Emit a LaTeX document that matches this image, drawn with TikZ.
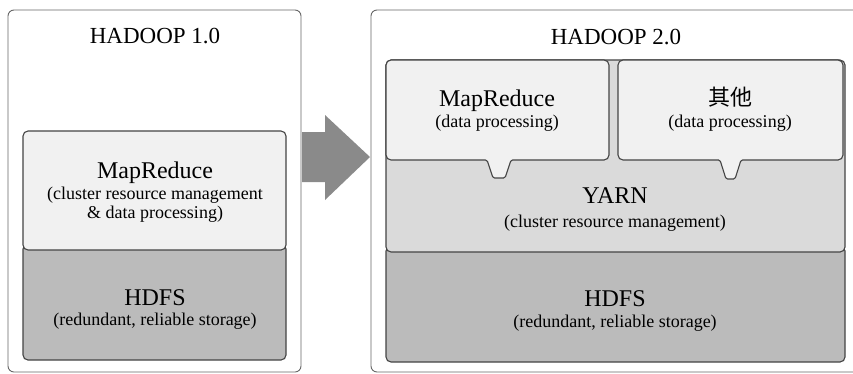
\documentclass[tikz,border=0pt]{standalone}
\usepackage{fontspec}
\setmainfont{Liberation Serif}
\newfontfamily\cjk{Noto Sans CJK SC}
\definecolor{outerline}{HTML}{666666}
\definecolor{boxline}{HTML}{444444}
\definecolor{topfill}{HTML}{F1F1F1}
\definecolor{yarnfill}{HTML}{DADADA}
\definecolor{hdfsfill}{HTML}{BBBBBB}
\definecolor{arrowfill}{HTML}{8A8A8A}
\begin{document}
\begin{tikzpicture}[x=1pt,y=-1pt,
  outerbox/.style={draw=outerline,line width=0.9pt,rounded corners=6pt,fill=white},
  layer/.style={draw=boxline,line width=1.1pt,rounded corners=5pt},
  ttl/.style={anchor=base,inner sep=0pt,font=\fontsize{23}{26}\selectfont,text=black},
  head/.style={anchor=base,inner sep=0pt,font=\fontsize{24}{27}\selectfont,text=black},
  sub/.style={anchor=base,inner sep=0pt,font=\fontsize{18}{20}\selectfont,text=black}]
\clip (0,0) rectangle (853,373);
\fill[white] (0,0) rectangle (853,373);
% outer frames
\draw[outerbox] (8,10) rectangle (301,372);
\draw[outerbox] (371,10) rectangle (862,372);
% arrow
\fill[arrowfill] (302,132) -- (325,132) -- (325,115) -- (370,157) -- (325,200) -- (325,182) -- (302,182) -- cycle;
% left stack
\draw[layer,fill=hdfsfill] (23,244) rectangle (286,360);
\draw[layer,fill=topfill] (23,131) rectangle (286,250);
% right stack
\draw[layer,fill=hdfsfill] (386,246) rectangle (845,362);
\draw[layer,fill=yarnfill] (386,60) rectangle (845,252);
\draw[draw=boxline,line width=1.1pt,fill=topfill]
  (386,110) [rounded corners=5pt] -- (386,160) [rounded corners=1.5pt] -- (487,160) -- (493,178) -- (505,178) -- (511,160) [rounded corners=5pt] -- (609,160) -- (609,60) -- (386,60) -- cycle;
\draw[draw=boxline,line width=1.1pt,fill=topfill]
  (618,110) [rounded corners=5pt] -- (618,160) [rounded corners=1.5pt] -- (720,160) -- (726,179) -- (735,179) -- (741,160) [rounded corners=5pt] -- (843,160) -- (843,60) -- (618,60) -- cycle;
% texts left
\node[ttl] (t1) at (155,43) {HADOOP 1.0};
\node[head] (mr1) at (155,178) {MapReduce};
\node[sub] (mr1a) at (155,199) {(cluster resource management};
\node[sub] (mr1b) at (155,218) {\& data processing)};
\node[head] (hd1) at (155,305) {HDFS};
\node[sub] (hd1a) at (155,325) {(redundant, reliable storage)};
% texts right
\node[ttl] (t2) at (616,44) {HADOOP 2.0};
\node[head] (mr2) at (497,106) {MapReduce};
\node[sub] (mr2a) at (497,127) {(data processing)};
\node[head] (ot) at (730,105) {\cjk\fontsize{22}{24}\selectfont 其他};
\node[sub] (ota) at (730,127) {(data processing)};
\node[head] (yarn) at (615,203) {YARN};
\node[sub] (yarna) at (615,227) {(cluster resource management)};
\node[head] (hd2) at (615,306) {HDFS};
\node[sub] (hd2a) at (615,327) {(redundant, reliable storage)};
\end{tikzpicture}
\end{document}
